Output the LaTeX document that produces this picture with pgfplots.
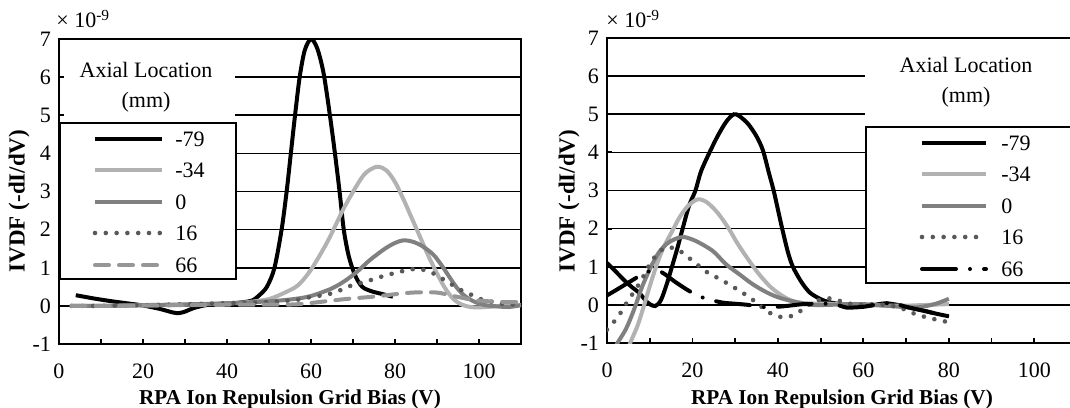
\documentclass[border=0pt]{standalone}
\usepackage{fontspec}
\setmainfont{Liberation Serif}
\usepackage{pgfplots}
\pgfplotsset{compat=1.18}

\definecolor{lgray}{HTML}{B2B2B2}
\definecolor{mgray}{HTML}{808080}
\definecolor{dgray}{HTML}{595959}
\definecolor{dashgray}{HTML}{969696}

\tikzset{
  s79/.style={black, line width=2pt},
  s34/.style={lgray, line width=2pt},
  s0/.style={mgray, line width=2pt},
  s16/.style={dgray, line width=2.3pt, line cap=round, dash pattern=on 0pt off 5.4pt},
  s66a/.style={dashgray, line width=2pt, line cap=round, dash pattern=on 7pt off 5pt},
  s66b/.style={black, line width=2pt, line cap=round, dash pattern=on 17pt off 7pt on 0pt off 7pt},
}

\pgfplotsset{
  ivdf/.style={
    scale only axis, height=152.5pt,
    xmin=0, xmax=110, ymin=-1, ymax=7,
    xtick={0,10,...,100}, xticklabels={0,,20,,40,,60,,80,,100},
    ytick={-1,0,...,7}, yticklabels={-1,0,1,2,3,4,5,6,7},
    tick align=inside, tick pos=left,
    major tick length=2.5pt,
    tick style={black, line width=0.9pt},
    ymajorgrids, grid style={black, line width=0.8pt},
    axis line style={line width=1pt},
    ticklabel style={font=\fontsize{11}{13}\selectfont},
    xticklabel style={yshift=-6.5pt},
    yticklabel style={xshift=-0.5pt},
    every axis plot/.append style={smooth, tension=0.5},
  }
}

\newcommand{\lab}{\fontsize{10.6}{12}\selectfont\bfseries}
\newcommand{\ylab}{\fontsize{11.5}{13}\selectfont\bfseries}
\newcommand{\txt}{\fontsize{11}{13}\selectfont}

\begin{document}
\begin{tikzpicture}

% left panel
\begin{axis}[ivdf, at={(29.5pt,31.5pt)}, anchor=south west, width=231pt]
\addplot[s79] coordinates {(4,0.28) (8,0.2) (12,0.13) (16,0.07) (20,0.01) (24,-0.08) (27,-0.17) (28.5,-0.19) (30,-0.15) (32,-0.06) (35,0.02) (38,0.04) (41,0.06) (44,0.1) (46,0.14) (47.5,0.26) (49.5,0.5) (51.3,1.0) (53,2.0) (54.2,3.0) (55.2,4.0) (56.2,5.0) (57.3,6.0) (58.5,6.7) (60,7.0) (61.5,6.75) (63,6.1) (64.5,5.0) (65.7,4.0) (66.8,3.0) (67.8,2.0) (69,1.3) (70.5,0.8) (72.2,0.5) (74.5,0.38) (77,0.31) (79.5,0.24)};
\addplot[s34] coordinates {(3,0) (10,0) (20,0.01) (30,0.03) (40,0.06) (45,0.1) (50,0.18) (54,0.36) (57,0.55) (60,0.95) (64,1.7) (68,2.6) (72,3.35) (74,3.57) (76,3.65) (78,3.55) (80,3.25) (82,2.8) (84,2.3) (86,1.8) (88,1.3) (90,0.85) (92,0.45) (94,0.17) (96,0.03) (98,-0.03) (100,-0.04) (103,-0.02) (106,0) (110,0.02)};
\addplot[s0] coordinates {(3,0) (10,0) (20,0.02) (30,0.04) (40,0.07) (50,0.12) (56,0.18) (60,0.26) (64.8,0.45) (68,0.65) (71,0.9) (74,1.2) (77.6,1.5) (80,1.65) (82,1.72) (84,1.69) (86,1.6) (88,1.45) (89.5,1.3) (91.5,1.0) (93,0.75) (94.7,0.48) (96.5,0.27) (98.7,0.12) (101,0.03) (103,0) (107,-0.03) (110,0.02)};
\addplot[s16] coordinates {(3,0) (10,0) (20,0.02) (30,0.04) (40,0.07) (50,0.1) (56.7,0.16) (59.4,0.22) (62.2,0.27) (65,0.33) (67.4,0.43) (70.2,0.56) (72.6,0.62) (75.4,0.72) (77.8,0.8) (80.6,0.88) (83.4,0.95) (85.8,0.97) (88.6,0.88) (91,0.73) (93.4,0.57) (95.8,0.41) (98.2,0.29) (100.6,0.17) (103.4,0.1) (105.8,0.05) (110,0.03)};
\addplot[s66a] coordinates {(3,0) (10,0) (20,0.01) (30,0.02) (40,0.03) (50,0.03) (56.3,0.04) (61.1,0.09) (68.3,0.18) (74.7,0.24) (79.5,0.3) (84.3,0.35) (89.9,0.35) (93.9,0.26) (97.9,0.17) (101.1,0.13) (105.9,0.1) (110,0.1)};
\end{axis}

% right panel
\begin{axis}[ivdf, at={(303.5pt,32pt)}, anchor=south west, width=235pt]
\addplot[s79] coordinates {(0,1.1) (2,0.88) (4,0.65) (6,0.45) (7.5,0.32) (9,0.12) (10,0.02) (11.3,-0.03) (12.6,0.12) (14,0.55) (15.2,1.0) (16.5,1.5) (17.7,2.0) (19.2,2.6) (20.7,3.0) (22,3.5) (24,4.0) (26,4.45) (28,4.82) (29.7,5.0) (31,4.95) (33,4.75) (35,4.42) (36.5,4.05) (37.8,3.5) (39,3.0) (40,2.5) (41,2.0) (42.3,1.4) (43.5,1.0) (45.5,0.6) (47.5,0.32) (50,0.15) (52,0.07) (54,0.03) (57,-0.04) (61,-0.03) (65,0.04) (68,0.0) (71,-0.08) (74,-0.15) (77,-0.23) (80,-0.3)};
\addplot[s34] coordinates {(2,-2.6) (4,-1.6) (5.2,-1.07) (7.1,-0.56) (8.6,-0.04) (10.2,0.56) (11.7,1.07) (13.2,1.5) (15.2,1.92) (17,2.3) (19,2.6) (21.3,2.77) (23.5,2.68) (26,2.4) (28.5,2.0) (30.6,1.6) (33,1.2) (35.4,0.83) (38,0.5) (40.2,0.3) (43,0.12) (46.5,0.04) (52,0.03) (56,0.02) (60,0.0) (65,-0.02) (70,-0.02) (75,0.0) (80,0.02)};
\addplot[s0] coordinates {(0,-1.6) (2.1,-1.07) (4.4,-0.64) (6.3,-0.13) (8.2,0.47) (10.2,0.98) (12.1,1.37) (14,1.6) (16,1.73) (18,1.78) (20.9,1.67) (24.8,1.41) (27.8,1.07) (31,0.8) (34,0.55) (37,0.35) (40,0.2) (44,0.08) (48,0.0) (52,0.0) (56,0.02) (60,0.02) (65,-0.02) (70,-0.06) (73,-0.06) (76,0.0) (78,0.07) (80,0.16)};
\addplot[s16] coordinates {(0,-0.65) (2.1,-0.38) (3.4,-0.17) (4.8,0.09) (6.3,0.34) (7.8,0.6) (9,0.85) (10.2,1.11) (11.7,1.32) (13.6,1.5) (16.3,1.47) (18.6,1.28) (20.8,1.09) (22.8,0.9) (25.2,0.75) (27.6,0.6) (30,0.44) (32.4,0.27) (34.5,0.1) (36.5,-0.08) (38.6,-0.24) (41.4,-0.33) (43.9,-0.26) (46,-0.1) (48,0.05) (51,0.17) (53.5,0.14) (56.3,0.04) (60,0.0) (63,0.02) (66.9,-0.03) (69.2,-0.1) (71.9,-0.23) (74.6,-0.32) (77.2,-0.39) (79.8,-0.45)};
\addplot[s66b] coordinates {(0,0.25) (2,0.38) (4.5,0.55) (7,0.72) (8.6,0.83) (10.5,0.9) (12,0.9) (13.6,0.8) (16,0.6) (19,0.38) (21.7,0.22) (24,0.14) (27,0.06) (30,0.03) (33,0.0) (37,-0.06) (41,-0.04) (46,0.02) (51,0.03) (54,0.0) (56,-0.07) (60,-0.05) (64,0.03) (67,0.04) (70,-0.05) (74,-0.15) (77,-0.23) (80,-0.3)};
\end{axis}

% axis titles and exponent
\node[anchor=base] at (145pt,1.5pt) {\lab RPA Ion Repulsion Grid Bias (V)};
\node[anchor=base] at (421pt,1.5pt) {\lab RPA Ion Repulsion Grid Bias (V)};
\node[rotate=90] at (9.5pt,103pt) {\ylab IVDF (-dI/dV)};
\node[rotate=90] at (284.5pt,103pt) {\ylab IVDF (-dI/dV)};
\node[anchor=base west, inner sep=0pt] at (28pt,189.5pt) {\txt × 10\textsuperscript{-9}};
\node[anchor=base west, inner sep=0pt] at (303pt,189.5pt) {\txt × 10\textsuperscript{-9}};

% left legend
\fill[white] (32pt,142pt) rectangle (117.5pt,183.3pt);
\node at (73pt,168.5pt) {\txt Axial Location};
\node at (73pt,152.5pt) {\txt (mm)};
\draw[fill=white, line width=0.8pt] (30pt,64pt) rectangle (118pt,142pt);
\draw[s79] (47.5pt,134pt) -- (81pt,134pt);
\draw[s34] (47.5pt,118.5pt) -- (81pt,118.5pt);
\draw[s0] (47.5pt,102.5pt) -- (81pt,102.5pt);
\draw[s16] (47.5pt,87pt) -- (81pt,87pt);
\draw[s66a] (47.5pt,71pt) -- (81pt,71pt);
\node[anchor=west, inner sep=0pt] at (87.5pt,134pt) {\txt -79};
\node[anchor=west, inner sep=0pt] at (87.5pt,118.5pt) {\txt -34};
\node[anchor=west, inner sep=0pt] at (87.5pt,102.5pt) {\txt 0};
\node[anchor=west, inner sep=0pt] at (87.5pt,87pt) {\txt 16};
\node[anchor=west, inner sep=0pt] at (87.5pt,71pt) {\txt 66};

% right legend
\fill[white] (432.5pt,140pt) rectangle (560pt,183.8pt);
\node at (483pt,171pt) {\txt Axial Location};
\node at (483pt,155pt) {\txt (mm)};
\draw[fill=white, line width=0.8pt] (433pt,62pt) rectangle (560pt,140pt);
\draw[s79] (461pt,132pt) -- (493pt,132pt);
\draw[s34] (461pt,116.5pt) -- (493pt,116.5pt);
\draw[s0] (461pt,100.5pt) -- (493pt,100.5pt);
\draw[s16] (461pt,85pt) -- (493pt,85pt);
\draw[s66b] (461pt,69pt) -- (493pt,69pt);
\node[anchor=west, inner sep=0pt] at (500.5pt,132pt) {\txt -79};
\node[anchor=west, inner sep=0pt] at (500.5pt,116.5pt) {\txt -34};
\node[anchor=west, inner sep=0pt] at (500.5pt,100.5pt) {\txt 0};
\node[anchor=west, inner sep=0pt] at (500.5pt,85pt) {\txt 16};
\node[anchor=west, inner sep=0pt] at (500.5pt,69pt) {\txt 66};

\pgfresetboundingbox
\useasboundingbox (0,0) rectangle (535pt,203.5pt);
\end{tikzpicture}
\end{document}
